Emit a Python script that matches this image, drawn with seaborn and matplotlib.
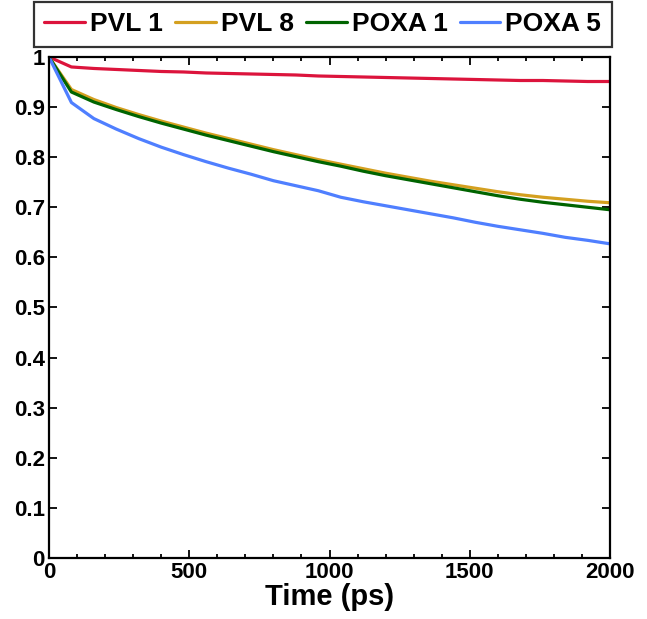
import numpy as np
import pandas as pd
import matplotlib
matplotlib.use("Agg")
import matplotlib.pyplot as plt
import seaborn as sns
from matplotlib.ticker import MultipleLocator

# sampled times (ps)
time_ps = [0, 80, 160, 240, 320, 400, 480, 560, 640, 720, 800, 880, 960, 1040,
           1120, 1200, 1280, 1360, 1440, 1520, 1600, 1680, 1760, 1840, 1920, 2000]

pvl1 = [1.0, 0.980, 0.977, 0.975, 0.973, 0.971, 0.970, 0.968, 0.967, 0.966, 0.965,
        0.964, 0.962, 0.961, 0.960, 0.959, 0.958, 0.957, 0.956, 0.955, 0.954,
        0.953, 0.953, 0.952, 0.951, 0.951]
pvl8 = [1.0, 0.935, 0.915, 0.899, 0.885, 0.872, 0.860, 0.848, 0.837, 0.826, 0.815,
        0.805, 0.795, 0.786, 0.777, 0.768, 0.760, 0.752, 0.745, 0.738, 0.731,
        0.725, 0.720, 0.716, 0.712, 0.709]
poxa1 = [1.0, 0.930, 0.910, 0.895, 0.881, 0.868, 0.856, 0.844, 0.833, 0.822, 0.811,
         0.801, 0.791, 0.782, 0.772, 0.763, 0.755, 0.747, 0.739, 0.731, 0.723,
         0.716, 0.710, 0.705, 0.700, 0.695]
poxa5 = [1.0, 0.909, 0.877, 0.856, 0.837, 0.820, 0.805, 0.791, 0.778, 0.766, 0.753,
         0.743, 0.733, 0.720, 0.711, 0.703, 0.695, 0.687, 0.679, 0.670, 0.662,
         0.655, 0.648, 0.640, 0.634, 0.627]

labels = ["PVL 1", "PVL 8", "POXA 1", "POXA 5"]
colors = ["#dc143c", "#d4a020", "#006400", "#4f7fff"]
ytick_labels = ["0", "0.1", "0.2", "0.3", "0.4", "0.5", "0.6", "0.7", "0.8", "0.9", "1"]

df = pd.concat([
    pd.DataFrame({"time": time_ps, "value": vals, "series": name})
    for name, vals in zip(labels, [pvl1, pvl8, poxa1, poxa5])
])

sns.set_theme(style="ticks")
plt.rcParams["font.family"] = ["Liberation Sans", "DejaVu Sans"]
plt.rcParams["font.weight"] = "bold"
for key in ["text.color", "axes.labelcolor", "xtick.color", "ytick.color"]:
    plt.rcParams[key] = "black"

fig = plt.figure(figsize=(6.47, 6.19), dpi=100)
ax = fig.add_axes([0.0757, 0.0985, 0.8673, 0.8095])

sns.lineplot(data=df, x="time", y="value", hue="series", palette=colors,
             hue_order=labels, linewidth=2.3, ax=ax, legend=False)

ax.set_xlim(0, 2000)
ax.set_ylim(0, 1)
ax.xaxis.set_major_locator(MultipleLocator(500))
ax.xaxis.set_minor_locator(MultipleLocator(100))
ax.set_yticks(np.arange(0, 1.01, 0.1))
ax.set_yticklabels(ytick_labels)
ax.tick_params(which="both", direction="in", top=True, right=True, labelsize=16,
               width=1.3, pad=3)
ax.tick_params(which="major", length=6)
ax.tick_params(which="minor", length=3)
for lbl in ax.get_xticklabels() + ax.get_yticklabels():
    lbl.set_fontweight("bold")
for s in ax.spines.values():
    s.set_linewidth(1.6)
    s.set_color("black")

ax.set_xlabel("Time (ps)", fontsize=21, fontweight="bold", labelpad=0)
ax.set_ylabel("")

handles = [plt.Line2D([], [], color=c, linewidth=2.3) for c in colors]
leg = fig.legend(handles, labels, loc="upper center", ncol=4,
                 bbox_to_anchor=(0.499, 0.997), borderaxespad=0,
                 frameon=True, fancybox=False,
                 edgecolor="black", handlelength=1.55,
                 handletextpad=0.19, columnspacing=0.45, borderpad=0.4,
                 prop={"weight": "bold", "size": 19})
leg.get_frame().set_linewidth(1.6)

fig.savefig("out.png", dpi=100)
